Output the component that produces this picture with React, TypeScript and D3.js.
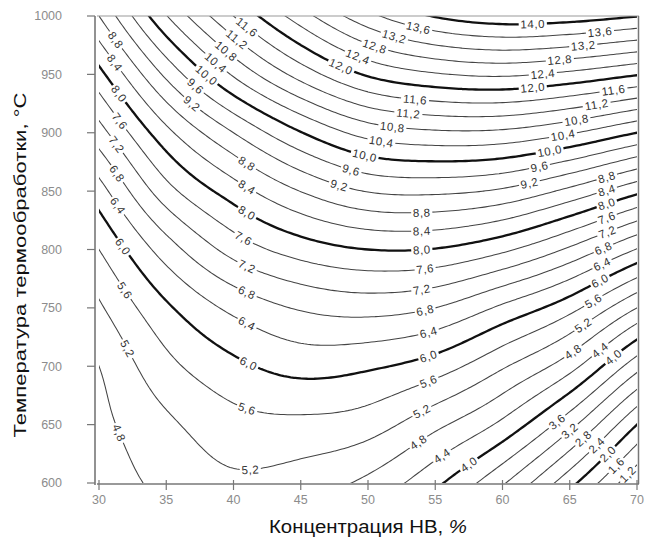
import React, { useMemo } from "react";
import * as d3 from "d3";

// Axes: concentration (x) and heat-treatment temperature (y)
const concentration = [30, 35, 40, 45, 50, 55, 60, 65, 70];
const temperature = [600, 650, 700, 750, 800, 850, 900, 950, 1000];

// Response values at each (temperature row, concentration column)
const z600 = [4.59, 4.9, 5.12, 5.0, 4.7, 4.09, 3.25, 2.13, 0.85];
const z650 = [4.69, 5.12, 5.45, 5.5, 5.38, 4.9, 4.3, 3.33, 2.0];
const z700 = [4.8, 5.48, 5.9, 6.14, 6.06, 5.8, 5.25, 4.55, 3.35];
const z750 = [5.14, 5.93, 6.5, 6.84, 6.95, 6.8, 6.32, 5.74, 4.8];
const z800 = [5.6, 6.6, 7.35, 7.78, 8.0, 7.98, 7.68, 7.13, 6.38];
const z850 = [6.23, 7.44, 8.2, 8.81, 9.22, 9.28, 9.13, 8.69, 8.1];
const z900 = [7.03, 8.28, 9.2, 9.98, 10.55, 10.73, 10.71, 10.44, 10.0];
const z950 = [7.87, 9.29, 10.45, 11.36, 12.05, 12.36, 12.46, 12.3, 12.03];
const z1000 = [8.8, 10.38, 11.6, 12.62, 13.48, 14.03, 14.25, 14.2, 14.02];
const zGrid = [z600, z650, z700, z750, z800, z850, z900, z950, z1000];

const contourLevels = [
  1.2, 1.6, 2.0, 2.4, 2.8, 3.2, 3.6, 4.0, 4.4, 4.8, 5.2, 5.6, 6.0, 6.4, 6.8, 7.2,
  7.6, 8.0, 8.4, 8.8, 9.2, 9.6, 10.0, 10.4, 10.8, 11.2, 11.6, 12.0, 12.4, 12.8,
  13.2, 13.6, 14.0,
];
const boldLevels = [2, 4, 6, 8, 10, 12, 14];

const xTicks = [30, 35, 40, 45, 50, 55, 60, 65, 70];
const yTicks = [600, 650, 700, 750, 800, 850, 900, 950, 1000];

const xTitle = "Концентрация НВ, ";
const xTitleUnit = "%";
const yTitle = "Температура термообработки, °C";

// Contour label anchors: [level, concentration, temperature] (approximate spots, snapped to line)
const labelAnchors: [number, number, number][] = [
  [8.8, 31.0, 977], [8.4, 31.2, 961], [8.0, 31.2, 931], [7.6, 31.2, 907],
  [7.2, 31.3, 888], [6.8, 31.4, 864], [6.4, 31.6, 840], [6.0, 31.7, 801],
  [5.6, 31.8, 765], [5.2, 31.9, 714], [4.8, 31.7, 645],
  [11.6, 41.0, 992], [11.2, 40.3, 978], [10.8, 39.2, 967], [10.4, 38.5, 958],
  [10.0, 38.0, 948], [9.6, 37.2, 940], [9.2, 37.0, 926],
  [8.8, 41.1, 877], [8.4, 41.0, 854], [8.0, 41.0, 831], [7.6, 40.9, 811],
  [7.2, 40.9, 785], [6.8, 40.9, 761], [6.4, 41.0, 737], [6.0, 41.0, 699],
  [5.6, 41.0, 661], [5.2, 41.2, 613],
  [13.6, 53.6, 988], [13.2, 51.9, 982], [12.8, 50.4, 973], [12.4, 49.2, 967],
  [12.0, 48.1, 960],
  [11.6, 53.6, 928], [11.2, 52.9, 917], [10.8, 51.9, 905], [10.4, 50.9, 892],
  [10.0, 49.9, 883], [9.6, 48.7, 866], [9.2, 47.9, 855],
  [8.8, 53.9, 831], [8.4, 54.0, 815], [8.0, 54.1, 800], [7.6, 54.2, 782],
  [7.2, 54.1, 767], [6.8, 54.2, 751], [6.4, 54.4, 731], [6.0, 54.6, 708],
  [5.6, 54.4, 686], [5.2, 53.9, 661], [4.8, 53.6, 637], [4.4, 55.5, 624],
  [14.0, 62.3, 991], [13.6, 67.3, 985], [13.2, 65.9, 973], [12.8, 64.3, 962],
  [12.4, 63.0, 952], [12.0, 62.3, 938], [11.6, 68.2, 937], [11.2, 67.0, 926],
  [10.8, 65.5, 913], [10.4, 64.5, 900], [10.0, 63.5, 884], [9.6, 62.8, 871],
  [9.2, 62.0, 855], [8.8, 67.8, 860], [8.4, 67.8, 848], [8.0, 67.8, 840],
  [7.6, 67.8, 825], [7.2, 67.8, 815], [6.8, 67.5, 804], [6.4, 67.4, 787],
  [6.0, 67.3, 771], [5.6, 66.5, 761], [5.2, 66.0, 737],
  [4.8, 64.9, 716], [4.4, 67.0, 718], [4.0, 68.2, 710], [3.6, 63.9, 656],
  [3.2, 64.8, 645], [2.8, 66.0, 639], [2.4, 67.0, 631], [2.0, 68.0, 624],
  [1.6, 68.5, 614], [1.2, 69.6, 607], [4.0, 57.4, 618],
];

const nCols = concentration.length;
const nRows = temperature.length;

function gridVal(i: number, j: number): number {
  if (j < 0) return gridVal(i, 0) + j * (gridVal(i, 1) - gridVal(i, 0));
  if (j > nRows - 1) {
    const a = gridVal(i, nRows - 1);
    const b = gridVal(i, nRows - 2);
    return a + (j - (nRows - 1)) * (a - b);
  }
  if (i < 0) return gridVal(0, j) + i * (gridVal(1, j) - gridVal(0, j));
  if (i > nCols - 1) {
    const a = gridVal(nCols - 1, j);
    const b = gridVal(nCols - 2, j);
    return a + (i - (nCols - 1)) * (a - b);
  }
  return zGrid[j][i];
}

function cr(p0: number, p1: number, p2: number, p3: number, t: number) {
  return (
    0.5 *
    (2 * p1 +
      (-p0 + p2) * t +
      (2 * p0 - 5 * p1 + 4 * p2 - p3) * t * t +
      (-p0 + 3 * p1 - 3 * p2 + p3) * t * t * t)
  );
}

function field(u: number, v: number) {
  const i = Math.max(0, Math.min(nCols - 2, Math.floor(u)));
  const j = Math.max(0, Math.min(nRows - 2, Math.floor(v)));
  const tx = u - i;
  const ty = v - j;
  const r = [-1, 0, 1, 2].map((dj) =>
    cr(gridVal(i - 1, j + dj), gridVal(i, j + dj), gridVal(i + 1, j + dj), gridVal(i + 2, j + dj), tx)
  );
  return cr(r[0], r[1], r[2], r[3], ty);
}

const fmt = (v: number) => v.toFixed(1).replace(".", ",");

export default function App() {
  const W = 653;
  const H = 540;
  const x = d3.scaleLinear().domain([30, 70]).range([99, 637]);
  const y = d3.scaleLinear().domain([600, 1000]).range([483, 16]);
  const x0 = x(30), x1 = x(70), y0 = y(1000), y1 = y(600);

  const { paths, labels } = useMemo(() => {
    const step = 0.05;
    const start = -0.2;
    const n = Math.round((nCols - 1 + 0.4) / step) + 1;
    const m = Math.round((nRows - 1 + 0.4) / step) + 1;
    const values = new Array(n * m);
    for (let l = 0; l < m; l++)
      for (let k = 0; k < n; k++) values[k + l * n] = field(start + k * step, start + l * step);
    const cs = d3.contours().size([n, m]).thresholds(contourLevels)(values);
    const cx = (c: number) => x(concentration[0] + 5 * (start + (c - 0.5) * step));
    const cy = (c: number) => y(temperature[0] + 50 * (start + (c - 0.5) * step));

    const rings: { value: number; pts: [number, number][] }[] = [];
    const paths = cs.map((c) => {
      let d = "";
      c.coordinates.forEach((poly) =>
        poly.forEach((ring) => {
          const pts = ring.map((p) => [cx(p[0]), cy(p[1])] as [number, number]);
          rings.push({ value: c.value, pts });
          d += "M" + pts.map((p) => p[0].toFixed(2) + "," + p[1].toFixed(2)).join("L") + "Z";
        })
      );
      const bold = boldLevels.some((b) => Math.abs(b - c.value) < 1e-6);
      return { d, bold, value: c.value };
    });

    const labels = labelAnchors.map(([lvl, lx, ly]) => {
      const tx = x(lx), ty = y(ly);
      let best = { dist: Infinity, px: tx, py: ty, ang: 0 };
      rings
        .filter((r) => Math.abs(r.value - lvl) < 1e-6)
        .forEach((r) => {
          const pts = r.pts;
          const L = pts.length - 1;
          for (let i = 0; i < L; i++) {
            const [px, py] = pts[i];
            if (px < x0 + 8 || px > x1 - 8 || py < y0 + 4 || py > y1 - 4) continue;
            const dd = (px - tx) ** 2 + (py - ty) ** 2;
            if (dd < best.dist) {
              const a = pts[(i - 3 + L) % L];
              const b = pts[(i + 3) % L];
              let ang = (Math.atan2(b[1] - a[1], b[0] - a[0]) * 180) / Math.PI;
              if (ang > 90) ang -= 180;
              if (ang < -90) ang += 180;
              best = { dist: dd, px, py, ang };
            }
          }
        });
      return { lvl, ...best };
    });
    return { paths, labels };
  }, []);

  const labelFont = 11.5;
  const tickColor = "#8c8c8c";

  return (
    <svg
      width={W}
      height={H}
      style={{ position: "absolute", left: 0, top: 0, background: "#fff" }}
      fontFamily="'Liberation Sans', Arial, sans-serif"
    >
      <rect width={W} height={H} fill="#fff" />
      <defs>
        <clipPath id="plotClip">
          <rect x={x0} y={y0} width={x1 - x0} height={y1 - y0} />
        </clipPath>
      </defs>

      <g clipPath="url(#plotClip)" fill="none" strokeLinejoin="round">
        {paths.map((p, i) => (
          <path
            key={i}
            d={p.d}
            stroke={p.bold ? "#111" : "#444"}
            strokeWidth={p.bold ? 2.3 : 1.05}
          />
        ))}
      </g>

      {labels.map((lb, i) => {
        const txt = fmt(lb.lvl);
        const w = (txt.length - 1) * 0.556 * labelFont + 0.278 * labelFont + (txt.length - 1) * 0.6;
        return (
          <g key={i} transform={`translate(${lb.px},${lb.py}) rotate(${lb.ang})`}>
            <rect x={-w / 2 - 2} y={-3.5} width={w + 4} height={7} fill="#fff" />
            <text
              textAnchor="middle"
              dy="0.36em"
              fontSize={labelFont}
              letterSpacing={0.6}
              fill="#333"
            >
              {txt}
            </text>
          </g>
        );
      })}

      {/* frame */}
      <line x1={97} x2={639} y1={16} y2={16} stroke="#999" strokeWidth={1} />
      <line x1={638.5} x2={638.5} y1={16} y2={484} stroke="#777" strokeWidth={1.5} />
      <line x1={95} x2={95} y1={16} y2={485} stroke="#777" strokeWidth={1.6} />
      <line x1={97} x2={639} y1={484} y2={484} stroke="#777" strokeWidth={1.6} />

      {yTicks.map((t) => (
        <g key={"y" + t}>
          <line x1={87} x2={95} y1={y(t)} y2={y(t)} stroke="#777" strokeWidth={1.2} />
          <text x={62} y={y(t)} dy="0.35em" textAnchor="end" fontSize={12.5} fill={tickColor}>
            {t}
          </text>
        </g>
      ))}
      {xTicks.map((t) => (
        <g key={"x" + t}>
          <line x1={x(t)} x2={x(t)} y1={480} y2={490} stroke="#777" strokeWidth={1.2} />
          <text x={x(t)} y={500} dy="0.35em" textAnchor="middle" fontSize={12.5} fill={tickColor}>
            {t}
          </text>
        </g>
      ))}

      <text
        x={368}
        y={533}
        textAnchor="middle"
        fontSize={17.5}
        fill="#111"
        textLength={198}
        lengthAdjust="spacingAndGlyphs"
      >
        {xTitle}
        <tspan fontStyle="italic">{xTitleUnit}</tspan>
      </text>
      <text
        transform={`translate(26,265) rotate(-90)`}
        textAnchor="middle"
        fontSize={17}
        fill="#111"
        textLength={345}
        lengthAdjust="spacingAndGlyphs"
      >
        {yTitle}
      </text>
    </svg>
  );
}
